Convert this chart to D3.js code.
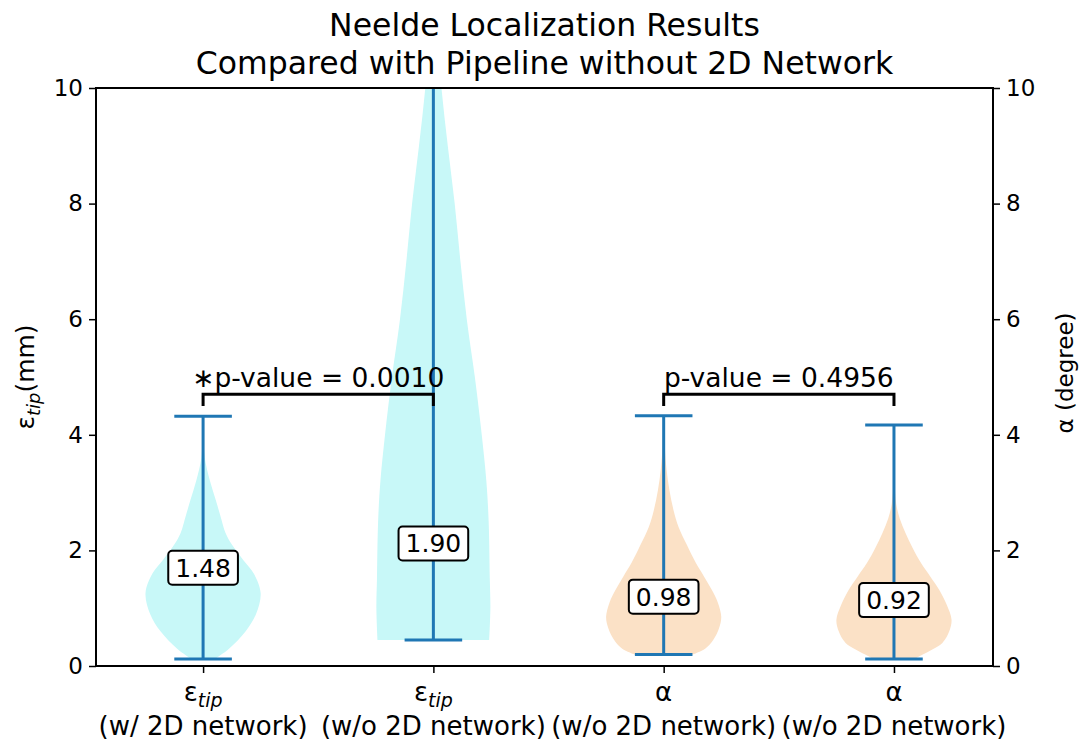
<!DOCTYPE html>
<html>
<head>
<meta charset="utf-8">
<script src="https://cdn.jsdelivr.net/npm/d3@7"></script>
<style>
  body { margin: 0; background: #fff; }
  text { font-family: "DejaVu Sans", sans-serif; fill: #000; }
</style>
</head>
<body>
<svg id="chart" width="1081" height="742"></svg>
<script>
// Data
const positions = [1, 2, 3, 4];
const symbols = ["ε", "ε", "α", "α"];
const subscripts = ["tip", "tip", "", ""];
const groups = ["(w/ 2D network)", "(w/o 2D network)", "(w/o 2D network)", "(w/o 2D network)"];
const mins = [0.12, 0.45, 0.2, 0.12];
const maxs = [4.32, 11.6, 4.33, 4.17];
const medians = [1.48, 1.90, 0.98, 0.92];

// violin outlines: [value, relative half width]
const density1 = [[0.12, 0.2], [0.3, 0.45], [0.6, 0.74], [0.9, 0.92], [1.26, 1.0], [1.6, 0.88], [1.83, 0.7], [2.1, 0.5], [2.3, 0.39], [2.6, 0.3], [2.87, 0.22], [3.2, 0.12], [3.6, 0.03], [4.0, 0.01], [4.32, 0.005]];
const density2 = [[0.45, 0.97], [1.0, 0.99], [1.5, 0.98], [2.5, 0.96], [3.2, 0.92], [4.0, 0.84], [5.0, 0.72], [6.0, 0.58], [7.0, 0.47], [8.0, 0.37], [9.0, 0.25], [10.0, 0.14], [11.0, 0.06], [11.6, 0.02]];
const density3 = [[0.2, 0.5], [0.3, 0.72], [0.45, 0.86], [0.65, 0.96], [0.85, 1.0], [1.1, 0.94], [1.31, 0.84], [1.55, 0.7], [1.78, 0.56], [2.1, 0.4], [2.4, 0.26], [2.7, 0.17], [3.04, 0.1], [3.4, 0.05], [3.8, 0.02], [4.33, 0.005]];
const density4 = [[0.12, 0.35], [0.2, 0.5], [0.4, 0.84], [0.6, 0.96], [0.8, 1.0], [1.05, 0.92], [1.31, 0.79], [1.55, 0.63], [1.78, 0.47], [2.05, 0.32], [2.3, 0.2], [2.55, 0.1], [2.8, 0.04], [3.2, 0.01], [4.17, 0.003]];
const densities = [density1, density2, density3, density4];

const yTicks = [0, 2, 4, 6, 8, 10];
const pairs = [[1, 2], [3, 4]];
const pLabels = ["∗p-value = 0.0010", "p-value = 0.4956"];
const bracketLevel = 4.7;

// styles
const violinColors = ["#c8f8f8", "#c8f8f8", "#fbe1c6", "#fbe1c6"];
const blue = "#1f77b4";

const margin = {left: 96, right: 88, top: 88, bottom: 76};
const W = 1081, H = 742;

const svg = d3.select("#chart");

const x = d3.scaleLinear().domain([0.535, 4.43]).range([margin.left, W - margin.right]);
const y = d3.scaleLinear().domain([0, 10]).range([H - margin.bottom, margin.top]);

// clip for the plot area
svg.append("clipPath").attr("id", "plot")
  .append("rect")
  .attr("x", margin.left).attr("y", margin.top)
  .attr("width", W - margin.left - margin.right)
  .attr("height", H - margin.top - margin.bottom);

const plot = svg.append("g").attr("clip-path", "url(#plot)");

// violins
positions.forEach((p, i) => {
  const area = d3.area()
    .y(d => y(d[0]))
    .x0(d => x(p - d[1] * 0.25))
    .x1(d => x(p + d[1] * 0.25))
    .curve(d3.curveCatmullRom.alpha(0.5));
  plot.append("path")
    .datum(densities[i])
    .attr("d", area)
    .attr("fill", violinColors[i]);
});

// extrema bars and caps
positions.forEach((p, i) => {
  plot.append("line")
    .attr("x1", x(p)).attr("x2", x(p))
    .attr("y1", y(mins[i])).attr("y2", y(maxs[i]))
    .attr("stroke", blue).attr("stroke-width", 3);
  [mins[i], maxs[i]].forEach(v => {
    plot.append("line")
      .attr("x1", x(p - 0.125)).attr("x2", x(p + 0.125))
      .attr("y1", y(v)).attr("y2", y(v))
      .attr("stroke", blue).attr("stroke-width", 3);
  });
});

// median labels in round boxes
positions.forEach((p, i) => {
  const g = svg.append("g").attr("transform", `translate(${x(p)},${y(medians[i] + 0.22)})`);
  const t = g.append("text")
    .attr("text-anchor", "middle")
    .attr("dy", "0.36em")
    .style("font-size", "25px")
    .text(d3.format(".2f")(medians[i]));
  const bb = t.node().getBBox();
  g.insert("rect", "text")
    .attr("x", bb.x - 7).attr("y", -17)
    .attr("width", bb.width + 14).attr("height", 34)
    .attr("rx", 4)
    .attr("fill", "#fff").attr("stroke", "#000").attr("stroke-width", 2);
});

// significance brackets
pairs.forEach((pr, i) => {
  const x1 = x(pr[0]), x2 = x(pr[1]);
  svg.append("path")
    .attr("d", `M${x1},${y(bracketLevel - 0.2)}V${y(bracketLevel)}H${x2}V${y(bracketLevel - 0.2)}`)
    .attr("fill", "none").attr("stroke", "#000").attr("stroke-width", 3);
  svg.append("text")
    .attr("x", (x1 + x2) / 2).attr("y", y(bracketLevel) - 7)
    .attr("text-anchor", "middle")
    .style("font-size", "26.5px")
    .text(pLabels[i]);
});

// axes
const yAxisL = svg.append("g")
  .attr("transform", `translate(${margin.left},0)`)
  .call(d3.axisLeft(y).tickValues(yTicks).tickSize(7).tickPadding(6));
const yAxisR = svg.append("g")
  .attr("transform", `translate(${W - margin.right},0)`)
  .call(d3.axisRight(y).tickValues(yTicks).tickSize(7).tickPadding(6));
const xAxis = svg.append("g")
  .attr("transform", `translate(0,${H - margin.bottom})`)
  .call(d3.axisBottom(x).tickValues(positions).tickSize(7).tickFormat(""));

[yAxisL, yAxisR, xAxis].forEach(a => {
  a.select(".domain").remove();
  a.selectAll(".tick line").attr("stroke", "#000").attr("stroke-width", 1.5);
  a.selectAll(".tick text").style("font-size", "23px").attr("fill", "#000");
});

// frame
svg.append("rect")
  .attr("x", margin.left).attr("y", margin.top)
  .attr("width", W - margin.left - margin.right)
  .attr("height", H - margin.top - margin.bottom)
  .attr("fill", "none").attr("stroke", "#000").attr("stroke-width", 2);

// two-line x tick labels
positions.forEach((p, i) => {
  const t = svg.append("text")
    .attr("x", x(p)).attr("y", 701)
    .attr("text-anchor", "middle")
    .style("font-size", "26px");
  t.append("tspan").text(symbols[i]);
  if (subscripts[i]) {
    t.append("tspan").attr("dy", 6).style("font-size", "19px").style("font-style", "italic").text(subscripts[i]);
  }
  svg.append("text")
    .attr("x", x(p)).attr("y", 735)
    .attr("text-anchor", "middle")
    .style("font-size", "26px")
    .text(groups[i]);
});

// axis titles
const yl = svg.append("text")
  .attr("transform", `translate(34,${(margin.top + H - margin.bottom) / 2}) rotate(-90)`)
  .attr("text-anchor", "middle")
  .style("font-size", "25px");
yl.append("tspan").text("ε");
yl.append("tspan").attr("dy", 6).style("font-size", "18px").style("font-style", "italic").text("tip");
yl.append("tspan").attr("dy", -6).text("(mm)");

svg.append("text")
  .attr("transform", `translate(1073,${(margin.top + H - margin.bottom) / 2 - 4}) rotate(-90)`)
  .attr("text-anchor", "middle")
  .style("font-size", "23px")
  .text("α (degree)");

// title
const cx = (margin.left + W - margin.right) / 2;
const title = svg.append("text")
  .attr("text-anchor", "middle")
  .style("font-size", "31.5px");
title.append("tspan").attr("x", cx).attr("y", 36).text("Neelde Localization Results");
title.append("tspan").attr("x", cx).attr("y", 74).text("Compared with Pipeline without 2D Network");
</script>
</body>
</html>
